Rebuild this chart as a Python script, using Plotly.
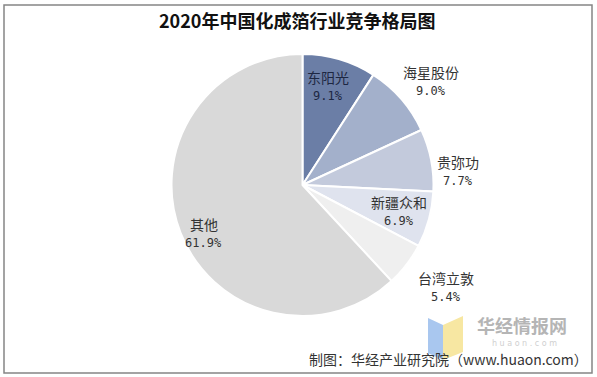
import math
import plotly.graph_objects as go

# ---- data ----
companies = ["东阳光", "海星股份", "贵弥功", "新疆众和", "台湾立敦", "其他"]
shares = [9.1, 9.0, 7.7, 6.9, 5.4, 61.9]
share_labels = ["9.1%", "9.0%", "7.7%", "6.9%", "5.4%", "61.9%"]
title_text = "2020年中国化成箔行业竞争格局图"
source_text = "制图：华经产业研究院（www.huaon.com）"

# ---- style ----
W, H = 597, 377
colors = ["#6b7ea6", "#a3b0cb", "#c3cadc", "#dfe3ee", "#efefef", "#d9d9d9"]
CX, CY, R = 302.5, 185.0, 131.0  # pixel centre / radius of the pie
# label placement styles: (radius factor, angle shift deg)
label_style = [(0.78, -2), (1.26, 2), (1.19, 6), (0.76, 0), (1.34, -2), (0.84, -4.5)]
name_colors = ["#1d2742", "#333333", "#333333", "#333333", "#333333", "#333333"]

def px(x):
    return x / W

def py(y):
    return 1 - y / H

fig = go.Figure()
fig.add_trace(go.Pie(
    labels=companies,
    values=shares,
    sort=False,
    direction="clockwise",
    rotation=0,
    marker=dict(colors=colors, line=dict(color="white", width=2)),
    textinfo="none",
    hoverinfo="label+percent",
    showlegend=False,
    domain=dict(x=[px(CX - R), px(CX + R)], y=[py(CY + R), py(CY - R)]),
))

annotations = []
total = sum(shares)
cum = 0.0
for name, val, lab, (rf, da), nc in zip(companies, shares, share_labels, label_style, name_colors):
    mid = (cum + val / 2) / total * 360 + da
    cum += val
    th = math.radians(mid)
    lx = CX + rf * R * math.sin(th)
    ly = CY - rf * R * math.cos(th)
    annotations.append(dict(x=px(lx), y=py(ly - 9), xref="paper", yref="paper",
                            xanchor="center", yanchor="middle",
                            text=name, showarrow=False,
                            font=dict(family="Noto Sans CJK SC", size=14, color=nc)))
    annotations.append(dict(x=px(lx), y=py(ly + 10), xref="paper", yref="paper",
                            xanchor="center", yanchor="middle",
                            text=lab, showarrow=False,
                            font=dict(family="DejaVu Sans Mono", size=12, color=nc)))

def note(x, y, text, family, size, color):
    annotations.append(dict(x=px(x), y=py(y), xref="paper", yref="paper", text=text,
                            xanchor="center", yanchor="middle", showarrow=False, borderpad=0,
                            font=dict(family=family, size=size, color=color)))

note(297, 20, "<b>" + title_text + "</b>", "Noto Sans CJK SC", 18, "#111111")
note(522, 325, "<b>华经情报网</b>", "Noto Sans CJK SC", 18, "#b5b5b5")
note(524, 343, "h u a o n . c o m", "DejaVu Sans", 8, "#d0d0d0")
note(448, 359, source_text, "Noto Sans CJK SC", 14, "#333333")

def path(points):
    return "M " + " L ".join(f"{px(a)},{py(b)}" for a, b in points) + " Z"

shapes = [
    dict(type="rect", xref="paper", yref="paper", x0=px(4), x1=px(592), y0=py(373), y1=py(5),
         line=dict(color="#858585", width=1.5), fillcolor="rgba(0,0,0,0)", layer="above"),
    dict(type="path", xref="paper", yref="paper", path=path([(428, 318), (443, 325), (443, 360), (428, 353)]),
         fillcolor="#a9c7ef", line=dict(width=0), layer="below"),
    dict(type="path", xref="paper", yref="paper", path=path([(443, 325), (463, 316), (463, 352), (443, 360)]),
         fillcolor="#f7e7a2", line=dict(width=0), layer="below"),
]

fig.update_layout(
    width=W, height=H,
    margin=dict(l=0, r=0, t=0, b=0),
    paper_bgcolor="white",
    plot_bgcolor="white",
    annotations=annotations,
    shapes=shapes,
)

fig.write_html("out.html", config={"displayModeBar": False},
               post_script="document.body.style.margin='0';document.body.style.overflow='hidden';")
